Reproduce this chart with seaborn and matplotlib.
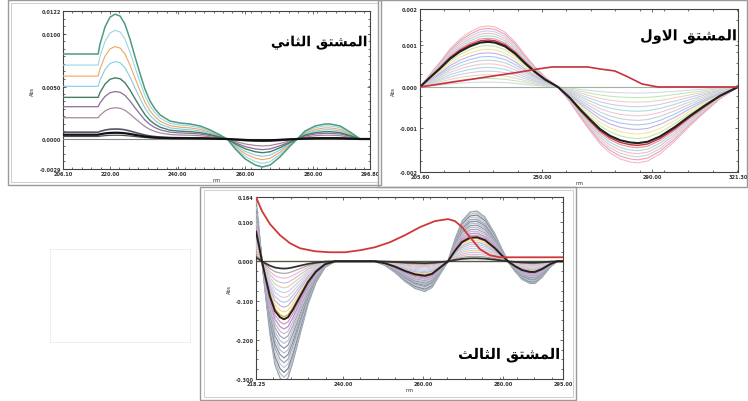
import numpy as np
import pandas as pd
import matplotlib
matplotlib.use("Agg")
import matplotlib.pyplot as plt
import seaborn as sns
from matplotlib.patches import Rectangle
from matplotlib.ticker import FixedLocator, AutoMinorLocator
import matplotlib.patheffects as pe

# ---------------- data ----------------
# Panel 1: second derivative (largest member of the family, other curves are scaled copies)
P1_X = [206.1, 216.5, 217.0, 218.5, 220.0, 221.5, 223.0, 224.4, 225.9, 227.4, 228.9, 230.3,
        231.8, 233.3, 234.8, 237.7, 240.7, 243.6, 246.6, 249.6, 252.5, 254.6, 257.0, 259.9,
        262.9, 265.0, 267.3, 270.2, 273.2, 275.3, 277.6, 280.6, 283.5, 285.0, 288.0, 290.9,
        293.9, 296.8]
P1_Y = [0.0081, 0.0081, 0.0090, 0.01067, 0.01162, 0.0119, 0.01171, 0.01095, 0.00952, 0.00781,
        0.00619, 0.00476, 0.00362, 0.00286, 0.00229, 0.00171, 0.00152, 0.00143, 0.00124,
        0.00086, 0.00038, 0.0, -0.00095, -0.0019, -0.00248, -0.00267, -0.00248, -0.00171,
        -0.00067, 0.0, 0.00076, 0.00124, 0.00143, 0.00143, 0.00124, 0.00067, 0.0, 0.0]
P1_AMPS = [1.0, 0.87, 0.74, 0.62, 0.49, 0.38, 0.25, 0.08, 0.05, 0.03, 0.0]
P1_XTICKS = [206.1, 220.0, 240.0, 260.0, 280.0, 296.8]
P1_XLABELS = ["206.10", "220.00", "240.00", "260.00", "280.00", "296.80"]
P1_YTICKS = [-0.00286, 0.0, 0.005, 0.010, 0.0122]
P1_YLABELS = ["-0.0029", "0.0000", "0.0050", "0.0100", "0.0122"]

# Panel 2: first derivative
P2_X = [205.6, 209.3, 212.9, 216.5, 220.2, 223.8, 227.5, 230.4, 232.9, 236.5, 240.2, 243.8,
        247.5, 251.1, 255.8, 260.2, 263.8, 267.5, 271.1, 274.7, 278.4, 282.0, 284.9, 288.5,
        292.9, 298.4, 303.8, 309.3, 314.7, 321.3]
P2_Y = [0.0, 0.000313, 0.000602, 0.000916, 0.001157, 0.001325, 0.001446, 0.00147, 0.001446,
        0.001325, 0.001084, 0.000771, 0.000482, 0.000241, 0.0, -0.000361, -0.000723, -0.00106,
        -0.001373, -0.00159, -0.001735, -0.001807, -0.00183, -0.001783, -0.001614, -0.001301,
        -0.00094, -0.000602, -0.000289, 0.0]
P2_AMPS = [1.0, 0.96, 0.92, 0.88, 0.84, 0.80, 0.77, 0.74, 0.68, 0.62, 0.56, 0.50, 0.44,
           0.38, 0.32, 0.26, 0.20, 0.14, 0.08, 0.0]
P2_RED_X = [205.6, 212.9, 220.2, 227.5, 234.7, 242.0, 248.5, 253.6, 260.2, 266.7, 271.1,
            276.5, 281.3, 286.4, 292.2, 321.3]
P2_RED_Y = [0.0, 0.0000723, 0.000145, 0.000217, 0.000289, 0.000361, 0.000434, 0.000482,
            0.000482, 0.000482, 0.000434, 0.000386, 0.000241, 0.0000723, 0.0, 0.0]
P2_XTICKS = [205.6, 250.0, 290.0, 321.3]
P2_XLABELS = ["205.60", "250.00", "290.00", "321.30"]
P2_YTICKS = [-0.00205, -0.001, 0.0, 0.001, 0.00188]
P2_YLABELS = ["-0.002", "-0.001", "0.000", "0.001", "0.002"]

# Panel 3: third derivative
P3_X = [218.25, 219.0, 219.75, 220.75, 221.75, 223.0, 224.25, 225.25, 226.25, 227.5, 229.25,
        231.25, 233.25, 235.5, 238.0, 240.5, 243.0, 248.0, 250.5, 253.0, 255.5, 258.0, 260.5,
        262.25, 264.25, 266.25, 268.0, 269.75, 271.75, 273.5, 275.5, 278.0, 279.75, 281.25,
        283.0, 284.75, 286.75, 288.0, 289.75, 291.75, 293.5, 295.0]
P3_Y = [0.159, 0.082, 0.0, -0.0974, -0.187, -0.264, -0.297, -0.308, -0.297, -0.256, -0.187,
        -0.110, -0.054, -0.0154, 0.0, 0.0, 0.0, 0.0, -0.0103, -0.0282, -0.0513, -0.0692,
        -0.0769, -0.0667, -0.0333, 0.0, 0.0564, 0.1026, 0.1256, 0.1282, 0.1128, 0.0692,
        0.0308, 0.0, -0.0256, -0.0462, -0.0564, -0.0564, -0.041, -0.0154, 0.0, 0.0]
P3_AMPS = [1.0, 0.96, 0.92, 0.88, 0.84, 0.80, 0.76, 0.72, 0.68, 0.64, 0.60, 0.56, 0.52,
           0.48, 0.46, 0.42, 0.38, 0.34, 0.30, 0.26, 0.22, 0.18, 0.14, 0.10, 0.06, 0.0]
P3_RED_X = [218.25, 219.75, 221.75, 224.25, 226.75, 229.25, 233.0, 236.75, 240.5, 244.25,
            248.0, 251.75, 255.5, 259.25, 263.0, 266.25, 268.0, 269.75, 271.75, 274.25,
            276.75, 279.25, 295.0]
P3_RED_Y = [0.164, 0.128, 0.0949, 0.0667, 0.0462, 0.0333, 0.0256, 0.0231, 0.0231, 0.0282,
            0.0359, 0.0487, 0.0667, 0.0872, 0.1026, 0.1077, 0.1026, 0.0872, 0.0615, 0.0308,
            0.0154, 0.0103, 0.0103]
P3_XTICKS = [218.25, 240.0, 260.0, 280.0, 295.0]
P3_XLABELS = ["218.25", "240.00", "260.00", "280.00", "295.00"]
P3_YTICKS = [-0.30, -0.20, -0.10, 0.0, 0.10, 0.164]
P3_YLABELS = ["-0.300", "-0.200", "-0.100", "0.000", "0.100", "0.164"]

TITLE_1 = "المشتق الثاني"
TITLE_2 = "المشتق الاول"
TITLE_3 = "المشتق الثالث"
X_LABEL = "nm"
Y_LABEL = "Abs"

# ---------------- styles ----------------
P1_COLORS = ["#4e9a82", "#96d8e4", "#f2a65e", "#86cce8", "#447e62", "#8c6c9c", "#a8899c",
             "#5a5268", "#111111", "#505050", "#8a8a8a"]
P1_LW = [1.1, 0.8, 0.8, 0.8, 1.0, 0.9, 0.9, 1.2, 1.6, 0.9, 0.8]
P2_COLORS = ["#f4b8c8", "#f0a0a8", "#c8d0f0", "#f0c0b0", "#a8d8f0", "#f09090", "#c03040",
             "#202020", "#c8e8a0", "#f0e8a0", "#c8b0e8", "#a8c8f0", "#d0d0d0", "#f0c8d8",
             "#a8e0d8", "#d8c8f0", "#e8d8b8", "#c0e8c0", "#d8d8e8", "#a0b0a0"]
P2_LW = [0.8] * 6 + [1.0, 1.5] + [0.8] * 12
P3_COLORS = ["#9aa0aa", "#b4bcc8", "#7d8594", "#c8ccd6", "#a0a8b8", "#8890a0", "#b8bcc8",
             "#9098a8", "#c0c4d0", "#a8a8b8", "#d0b8d8", "#b098c8", "#e090c0", "#222222",
             "#e0b040", "#f0d890", "#c0b0e0", "#a8c8f0", "#f0c0d0", "#b0d8f0", "#e8d0a0",
             "#c8c0e8", "#f0b8c8", "#a0a0a0", "#333333", "#5a5a40"]
P3_LW = [0.9] * 13 + [1.4, 1.1] + [0.8] * 9 + [1.3, 1.0]

# ---------------- Arabic shaping (matplotlib has no RTL/joining) ----------------
ARABIC_FORMS = {
    "\u0627": ("\uFE8D", "\uFE8E", None, None),
    "\u0644": ("\uFEDD", "\uFEDE", "\uFEDF", "\uFEE0"),
    "\u0645": ("\uFEE1", "\uFEE2", "\uFEE3", "\uFEE4"),
    "\u0634": ("\uFEB5", "\uFEB6", "\uFEB7", "\uFEB8"),
    "\u062A": ("\uFE95", "\uFE96", "\uFE97", "\uFE98"),
    "\u0642": ("\uFED5", "\uFED6", "\uFED7", "\uFED8"),
    "\u062B": ("\uFE99", "\uFE9A", "\uFE9B", "\uFE9C"),
    "\u0646": ("\uFEE5", "\uFEE6", "\uFEE7", "\uFEE8"),
    "\u064A": ("\uFEF1", "\uFEF2", "\uFEF3", "\uFEF4"),
    "\u0648": ("\uFEED", "\uFEEE", None, None),
    "LA": ("\uFEFB", "\uFEFC", None, None),
}


def shape_word(w):
    toks, i = [], 0
    while i < len(w):
        if w[i] == "\u0644" and i + 1 < len(w) and w[i + 1] == "\u0627":
            toks.append("LA")
            i += 2
        else:
            toks.append(w[i])
            i += 1
    out = []
    for j, t in enumerate(toks):
        f = ARABIC_FORMS[t]
        prev = j > 0 and ARABIC_FORMS[toks[j - 1]][2] is not None
        nxt = j < len(toks) - 1 and f[2] is not None
        if prev and nxt:
            out.append(f[3])
        elif prev:
            out.append(f[1])
        elif nxt:
            out.append(f[2])
        else:
            out.append(f[0])
    return "".join(out)


def rtl(s):
    return " ".join(shape_word(w) for w in s.split(" "))[::-1]


# ---------------- figure ----------------
sns.set_theme(style="ticks")
plt.rcParams["font.family"] = ["DejaVu Sans"]

W, H = 748, 402
fig = plt.figure(figsize=(W / 100, H / 100), dpi=100)
fig.patch.set_facecolor("white")


def frac_rect(x0, y0, x1, y1):
    return [x0 / W, 1 - y1 / H, (x1 - x0) / W, (y1 - y0) / H]


def frame(x0, y0, x1, y1, color="#9a9a9a", lw=1.0):
    r = frac_rect(x0, y0, x1, y1)
    fig.add_artist(Rectangle((r[0], r[1]), r[2], r[3], transform=fig.transFigure,
                             fill=False, edgecolor=color, lw=lw))


# screenshot-style frames around each panel
frame(8, 1, 381, 186)
frame(11, 4, 378, 183, color="#c8c8c8", lw=0.6)
frame(378, 1, 747, 188)
frame(200, 188, 576, 401)
frame(204, 191, 573, 398, color="#c8c8c8", lw=0.6)
frame(50, 250, 190, 343, color="#ececec", lw=0.6)


def family_df(x, shape, amps):
    rows = []
    for i, a in enumerate(amps):
        for xv, sv in zip(x, shape):
            rows.append((i, xv, sv * a))
    return pd.DataFrame(rows, columns=["curve", "wl", "val"])


def draw_family(ax, x, shape, amps, colors, widths):
    df = family_df(x, shape, amps)
    order = sorted(range(len(amps)), key=lambda k: widths[k])
    for i in order:
        sns.lineplot(data=df[df.curve == i], x="wl", y="val", color=colors[i],
                     lw=widths[i], ax=ax, estimator=None, sort=True, legend=False,
                     zorder=2 + widths[i])


def style_axes(ax, xticks, xlabels, yticks, ylabels):
    ax.set_xlim(xticks[0], xticks[-1])
    ax.set_ylim(yticks[0], yticks[-1])
    ax.xaxis.set_major_locator(FixedLocator(xticks))
    ax.yaxis.set_major_locator(FixedLocator(yticks))
    ax.set_xticklabels(xlabels, fontsize=3.6, fontweight="bold")
    ax.set_yticklabels(ylabels, fontsize=3.6, fontweight="bold")
    ax.xaxis.set_minor_locator(AutoMinorLocator(5))
    ax.yaxis.set_minor_locator(AutoMinorLocator(4))
    ax.tick_params(which="both", direction="in", top=True, right=True, width=0.5,
                   colors="#333333", pad=1.5)
    ax.tick_params(which="major", length=2.5)
    ax.tick_params(which="minor", length=1.3)
    for s in ax.spines.values():
        s.set_color("#444444")
        s.set_linewidth(0.8)
    ax.set_xlabel(X_LABEL, fontsize=3.5, labelpad=1)
    ax.set_ylabel(Y_LABEL, fontsize=3.5, labelpad=3)
    ax.set_facecolor("white")


def title(ax, txt, x, y, size):
    ax.text(x, y, rtl(txt), transform=ax.transAxes, ha="center", va="center",
            fontsize=size, fontweight="bold", color="black", zorder=20,
            path_effects=[pe.withStroke(linewidth=3, foreground="white")])


# Panel 1
ax1 = fig.add_axes(frac_rect(63, 12, 370, 170))
draw_family(ax1, P1_X, P1_Y, P1_AMPS, P1_COLORS, P1_LW)
style_axes(ax1, P1_XTICKS, P1_XLABELS, P1_YTICKS, P1_YLABELS)
title(ax1, TITLE_1, 0.835, 0.80, 10)

# Panel 2
ax2 = fig.add_axes(frac_rect(420, 10, 738, 173))
draw_family(ax2, P2_X, P2_Y, P2_AMPS, P2_COLORS, P2_LW)
sns.lineplot(x=P2_RED_X, y=P2_RED_Y, color="#c83040", lw=1.2, ax=ax2, estimator=None,
             legend=False, zorder=6)
style_axes(ax2, P2_XTICKS, P2_XLABELS, P2_YTICKS, P2_YLABELS)
title(ax2, TITLE_2, 0.845, 0.83, 10.5)

# Panel 3
ax3 = fig.add_axes(frac_rect(256, 198, 563, 380))
draw_family(ax3, P3_X, P3_Y, P3_AMPS, P3_COLORS, P3_LW)
sns.lineplot(x=P3_RED_X, y=P3_RED_Y, color="#d03838", lw=1.3, ax=ax3, estimator=None,
             legend=False, zorder=6)
style_axes(ax3, P3_XTICKS, P3_XLABELS, P3_YTICKS, P3_YLABELS)
title(ax3, TITLE_3, 0.825, 0.13, 10.5)

fig.savefig("out.png", dpi=100, facecolor="white")
